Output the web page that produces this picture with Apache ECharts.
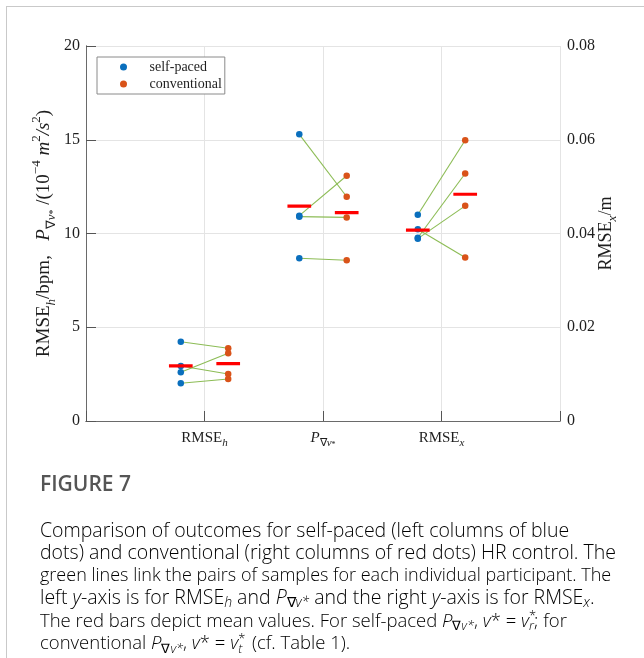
<!DOCTYPE html>
<html><head><meta charset="utf-8">
<script src="https://cdn.jsdelivr.net/npm/echarts@6/dist/echarts.min.js"></script>
<style>html,body{margin:0;padding:0;background:#fff}#c{width:644px;height:658px}</style>
</head><body><div id="c"></div>
<script>
// ---- data ----
const categoryPos = [1, 2, 3];
const xTickLabels = ['{n|RMSE}{si|h}', '{i|P}{s|\u2207}{si|v}{ss|*}', '{n|RMSE}{si|x}'];
// left axis groups (RMSE_h in bpm, P in 10^-4 m^2/s^2), paired by participant
const rmseH_selfPaced     = [4.23, 2.93, 2.60, 2.01];
const rmseH_conventional  = [3.88, 2.51, 3.61, 2.24];
const pGrad_selfPaced     = [15.29, 10.95, 10.90, 8.68];
const pGrad_conventional  = [11.96, 13.08, 10.86, 8.57];
// right axis group (RMSE_x in m)
const rmseX_selfPaced     = [0.0440, 0.0391, 0.0389, 0.0409];
const rmseX_conventional  = [0.0599, 0.0528, 0.0459, 0.0349];
const leftTicks  = [0, 5, 10, 15, 20];
const rightTicks = [0, 0.02, 0.04, 0.06, 0.08];

const groups = [
  {pos: categoryPos[0], sp: rmseH_selfPaced, cv: rmseH_conventional, axis: 0},
  {pos: categoryPos[1], sp: pGrad_selfPaced, cv: pGrad_conventional, axis: 0},
  {pos: categoryPos[2], sp: rmseX_selfPaced, cv: rmseX_conventional, axis: 1}
];
const OFF = 0.2, HALF = 0.1;
const BLUE = '#0a6fbd', ORANGE = '#d95319', GREEN = '#8cbc55', RED = '#ff0000';
const SERIF = '"Liberation Serif", "Times New Roman", serif';
const SANS = '"Open Sans", "Noto Sans", sans-serif';
const TXT = '#1e1e1e', AX = '#6a6a6a';
const mean = a => a.reduce((s, v) => s + v, 0) / a.length;

const series = [];
groups.forEach(g => {
  g.sp.forEach((v, i) => {
    series.push({type: 'line', yAxisIndex: g.axis, silent: true, symbol: 'none',
      lineStyle: {color: GREEN, width: 1.1}, z: 2,
      data: [[g.pos - OFF, v], [g.pos + OFF, g.cv[i]]]});
  });
});
groups.forEach(g => {
  series.push({type: 'scatter', name: 'self-paced', yAxisIndex: g.axis, symbolSize: 6.5,
    itemStyle: {color: BLUE, opacity: 1}, z: 3, data: g.sp.map(v => [g.pos - OFF, v])});
  series.push({type: 'scatter', name: 'conventional', yAxisIndex: g.axis, symbolSize: 6.5,
    itemStyle: {color: ORANGE, opacity: 1}, z: 3, data: g.cv.map(v => [g.pos + OFF, v])});
});
groups.forEach(g => {
  const ms = mean(g.sp), mc = mean(g.cv);
  series.push({type: 'line', yAxisIndex: g.axis, silent: true, symbol: 'none', z: 4,
    lineStyle: {color: RED, width: 3.2}, data: [[g.pos - OFF - HALF, ms], [g.pos - OFF + HALF, ms]]});
  series.push({type: 'line', yAxisIndex: g.axis, silent: true, symbol: 'none', z: 4,
    lineStyle: {color: RED, width: 3.2}, data: [[g.pos + OFF - HALF, mc], [g.pos + OFF + HALF, mc]]});
});

function richSet(fs, lh, color, fam, weight) {
  const sub = Math.round(fs * 0.7);
  const w = weight || 'normal';
  return {
    n:  {fontFamily: fam, fontSize: fs, color: color, lineHeight: lh, fontWeight: w},
    i:  {fontFamily: fam, fontSize: fs, color: color, lineHeight: lh, fontStyle: 'italic', fontWeight: w},
    s:  {fontFamily: fam, fontSize: sub, color: color, lineHeight: Math.round(lh*0.5), verticalAlign: 'bottom', fontWeight: w},
    si: {fontFamily: fam, fontSize: sub, color: color, lineHeight: Math.round(lh*0.5), verticalAlign: 'bottom', fontStyle: 'italic', fontWeight: w},
    ss: {fontFamily: fam, fontSize: Math.round(fs*0.5), color: color, lineHeight: Math.round(lh*0.62), verticalAlign: 'bottom', fontWeight: w},
    p:  {fontFamily: fam, fontSize: sub, color: color, lineHeight: Math.round(lh*0.6), verticalAlign: 'top', fontWeight: w},
    pi: {fontFamily: fam, fontSize: sub, color: color, lineHeight: Math.round(lh*0.6), verticalAlign: 'top', fontStyle: 'italic', fontWeight: w},
    pz: {fontFamily: fam, fontSize: sub, color: color, lineHeight: Math.round(lh*0.6), verticalAlign: 'top', width: 0.01, fontWeight: w},
    r:  {fontFamily: fam, fontSize: fs, color: '#d0101e', lineHeight: lh, fontWeight: w}
  };
}

const yName = '{n|RMSE}{si|h}{n|/bpm,   }{i|P}{s|\u2207}{si|v}{ss|*}{n| /(10}{p|\u22124}{i| m}{p|2}{i|/s}{p|2}{n|)}';
const y2Name = '{n|RMSE}{si|x}{n|/m}';

const CAPC = '#5e5e5e';
const capSizes = [19.5, 19.5, 18, 19.5, 18.5, 18.5];
const capLines = [
  '{n|Comparison of outcomes for self-paced (left columns of blue}',
  '{n|dots) and conventional (right columns of red dots) HR control. The}',
  '{n|green lines link the pairs of samples for each individual participant. The}',
  '{n|left }{i|y}{n|-axis is for RMSE}{si|h}{n| and }{i|P}{s|\u2207}{si|v*}{n| and the right }{i|y}{n|-axis is for RMSE}{si|x}{n|.}',
  '{n|The red bars depict mean values. For self-paced }{i|P}{s|\u2207}{si|v*}{n|, }{i|v}{n|* = }{i|v}{pz|*}{si|r}{n|; for}',
  '{n|conventional }{i|P}{s|\u2207}{si|v*}{n|, }{i|v}{n|* = }{i|v}{pz|*}{si|t}{n|  (cf. }{r|Table 1}{n|).}'
];
const capY0 = 531, capDY = 22.6;

const graphic = [
  {type: 'line', shape: {x1: 6, y1: 6.5, x2: 644, y2: 6.5}, style: {stroke: '#c9c9c9', lineWidth: 1}, silent: true},
  {type: 'line', shape: {x1: 6.5, y1: 6, x2: 6.5, y2: 658}, style: {stroke: '#c9c9c9', lineWidth: 1}, silent: true},
  {type: 'text', left: 40, top: 475, silent: true,
   style: {text: 'FIGURE 7', font: '600 21px ' + SANS, fill: '#555555'}}
];
capLines.forEach((t, k) => {
  graphic.push({type: 'text', x: 40, y: capY0 + k * capDY, silent: true,
    style: {text: t, rich: richSet(capSizes[k], 23, CAPC, SANS, 300), verticalAlign: 'middle', align: 'left'}});
});

// main axes: lines + labels (no ticks); helper axes shifted 5px inside carry the inward ticks
const lineStyleAx = {show: true, lineStyle: {color: AX, width: 1}};
const helperTick = {show: true, inside: false, length: 5, lineStyle: {color: '#555555', width: 1}};
const helperCommon = {axisLine: {show: false}, axisTick: helperTick, axisLabel: {show: false},
  splitLine: {show: false}, offset: -5, silent: true};

const option = {
  animation: false,
  backgroundColor: '#ffffff',
  grid: {left: 86, right: 84, top: 46, height: 375, containLabel: false},
  legend: {
    data: ['self-paced', 'conventional'], orient: 'vertical', left: 97, top: 57,
    padding: [2, 3, 2, 23], itemGap: 1, itemWidth: 42, itemHeight: 7, icon: 'circle',
    borderColor: '#8a8a8a', borderWidth: 1, backgroundColor: '#ffffff',
    textStyle: {fontFamily: SERIF, fontSize: 14, color: TXT, lineHeight: 16},
    selectedMode: false
  },
  xAxis: [
    {type: 'value', min: 0, max: 4, interval: 1, position: 'bottom',
     axisLine: lineStyleAx, axisTick: {show: false},
     splitLine: {show: true, lineStyle: {color: '#e4e4e4', width: 1}},
     axisLabel: {margin: 6, formatter: v => (v >= 1 && v <= 3) ? xTickLabels[v - 1] : '',
       rich: richSet(15, 22, TXT, SERIF)}},
    {type: 'value', min: 0, max: 4, interval: 1, position: 'top',
     axisLine: lineStyleAx, axisTick: {show: false},
     splitLine: {show: false}, axisLabel: {show: false}},
    Object.assign({type: 'value', min: 0, max: 4, interval: 1, position: 'bottom'}, helperCommon),
    Object.assign({type: 'value', min: 0, max: 4, interval: 1, position: 'top'}, helperCommon)
  ],
  yAxis: [
    {type: 'value', min: leftTicks[0], max: leftTicks[leftTicks.length - 1], interval: leftTicks[1] - leftTicks[0],
     position: 'left',
     axisLine: lineStyleAx, axisTick: {show: false},
     splitLine: {show: true, lineStyle: {color: '#e4e4e4', width: 1}},
     axisLabel: {margin: 6, fontFamily: SERIF, fontSize: 16, color: TXT},
     name: yName, nameLocation: 'middle', nameGap: 28, nameRotate: 90, nameMoveOverlap: false,
     nameTextStyle: {rich: richSet(19, 28, TXT, SERIF)}},
    {type: 'value', min: rightTicks[0], max: rightTicks[rightTicks.length - 1], interval: rightTicks[1] - rightTicks[0],
     position: 'right',
     axisLine: lineStyleAx, axisTick: {show: false},
     splitLine: {show: false},
     axisLabel: {margin: 7, fontFamily: SERIF, fontSize: 16, color: TXT,
       formatter: v => v === 0 ? '0' : v.toFixed(2)},
     name: y2Name, nameLocation: 'middle', nameGap: 33, nameRotate: 90, nameMoveOverlap: false,
     nameTextStyle: {rich: richSet(18, 26, TXT, SERIF)}},
    Object.assign({type: 'value', min: leftTicks[0], max: leftTicks[leftTicks.length - 1],
      interval: leftTicks[1] - leftTicks[0], position: 'left'}, helperCommon),
    Object.assign({type: 'value', min: rightTicks[0], max: rightTicks[rightTicks.length - 1],
      interval: rightTicks[1] - rightTicks[0], position: 'right'}, helperCommon)
  ],
  graphic: graphic,
  series: series
};
const chart = echarts.init(document.getElementById('c'), null, {renderer: 'canvas'});
chart.setOption(option);
</script>
</body></html>
